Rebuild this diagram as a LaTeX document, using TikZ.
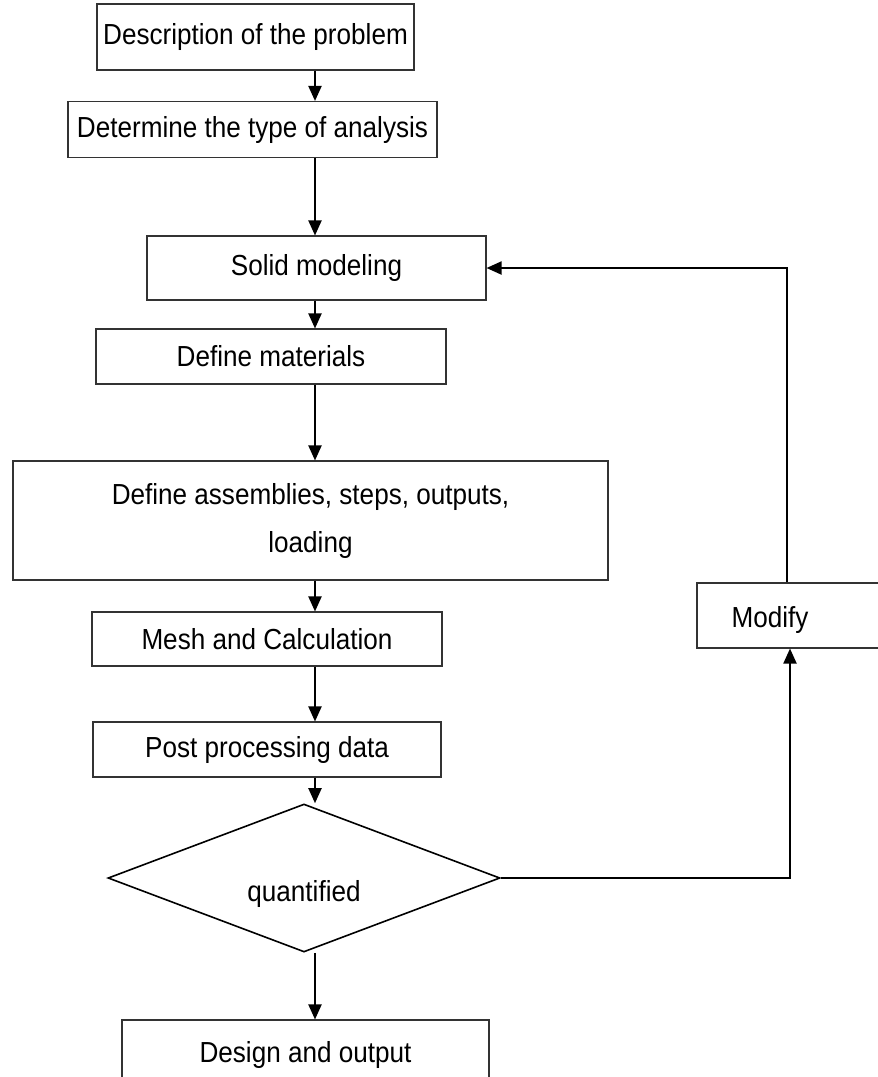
\documentclass[tikz,border=0pt]{standalone}
\usepackage{fontspec}
\setmainfont[FakeStretch=0.9]{Liberation Sans}
\usetikzlibrary{arrows.meta,shapes.geometric}

\begin{document}
\begin{tikzpicture}[
  x=1pt, y=-1pt,
  box/.style={draw=black!80, line width=1.1pt, inner sep=0pt, align=center,
              font=\fontsize{29}{48}\selectfont},
  decide/.style={draw, line width=1.6pt, shape=diamond, inner sep=0pt,
                 minimum width=392pt, minimum height=148pt},
  flow/.style={line width=2pt, -{Triangle[length=15pt,width=13pt]}}
  ]
\clip (0,0) rectangle (878,1077);
\coordinate (col) at (315,0);     % main column of arrows
\coordinate (rcol) at (790,0);    % return path, lower part
\coordinate (rcoltop) at (787,0); % return path, upper part
\node[box, minimum width=317, minimum height=66] (desc) at (255.5,37) {Description of the problem};
\node[box, minimum width=369, minimum height=56] (type) at (252.5,129.5) {Determine the type of analysis};
\node[box, minimum width=339, minimum height=64] (solid) at (316.5,268) {Solid modeling};
\node[box, minimum width=350, minimum height=55] (mat) at (271,356.5) {Define materials};
\node[box, minimum width=595, minimum height=119] (assem) at (310.5,520.5) {Define assemblies, steps, outputs,\\ loading};
\node[box, minimum width=350, minimum height=54] (mesh) at (267,639) {Mesh and Calculation};
\node[box, minimum width=348, minimum height=55] (post) at (267,749.5) {Post processing data};
\node[decide, label={[font=\fontsize{29}{36}\selectfont, yshift=-16pt]center:quantified}] (quant) at (304,878) {};
\node[box, minimum width=367, minimum height=130] (design) at (305.5,1085) {};
\node[font=\fontsize{29}{36}\selectfont] (designtxt) at (305.5,1055) {Design and output};
\node[box, minimum width=190, minimum height=65,
      label={[font=\fontsize{29}{36}\selectfont, xshift=-22pt, yshift=-4pt]center:Modify}] (modify) at (792,615.5) {};
% main chain
\draw[flow] (desc.south -| col) -- (type.north -| col);
\draw[flow] (type.south -| col) -- (solid.north -| col);
\draw[flow] (solid.south -| col) -- (mat.north -| col);
\draw[flow] (mat.south -| col) -- (assem.north -| col);
\draw[flow] (assem.south -| col) -- (mesh.north -| col);
\draw[flow] (mesh.south -| col) -- (post.north -| col);
\draw[flow] (post.south -| col) -- (quant.north -| col);
\draw[flow] (quant.south -| col) -- (design.north -| col);
% loop back
\draw[flow] (quant.east) -- (quant.east -| rcol) -- (modify.south -| rcol);
\draw[flow] (modify.north -| rcoltop) |- (solid.east);
\end{tikzpicture}
\end{document}
